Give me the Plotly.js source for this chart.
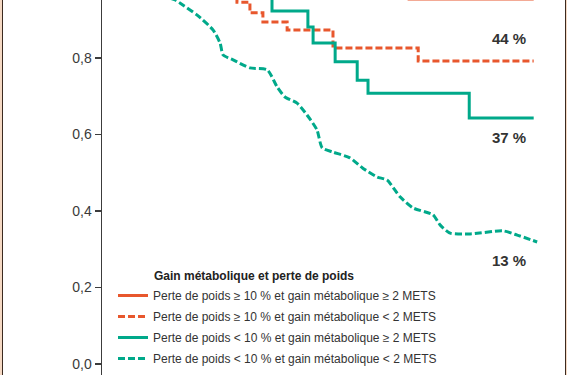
<!DOCTYPE html>
<html>
<head>
<meta charset="utf-8">
<script src="https://cdn.plot.ly/plotly-3.0.1.min.js"></script>
<style>
  html, body { margin: 0; padding: 0; background: #ffffff; overflow: hidden; }
  #chart { position: absolute; left: 0; top: 0; width: 567px; height: 375px; }
  .edgeL { position: absolute; left: 0; top: 0; width: 2px; height: 375px; background: #f5d9c4; border-right: 1px solid #3b2a20; pointer-events: none; }
  .edgeR { position: absolute; left: 565px; top: 0; width: 2px; height: 375px; background: #f5d9c4; border-left: 1px solid #3b2a20; box-sizing: border-box; pointer-events: none; }
</style>
</head>
<body>
<div id="chart"></div>
<div class="edgeL"></div>
<div class="edgeR"></div>
<script>
// Survival curves (time in years, survival probability)
const seriesNames = [
  "Perte de poids ≥ 10 % et gain métabolique ≥ 2 METS",
  "Perte de poids ≥ 10 % et gain métabolique < 2 METS",
  "Perte de poids < 10 % et gain métabolique ≥ 2 METS",
  "Perte de poids < 10 % et gain métabolique < 2 METS"
];

const xHighHigh = [0, 7.10, 9.98];
const yHighHigh = [1.0, 0.954, 0.954];

const xHighLow = [0, 3.12, 3.42, 3.72, 4.28, 5.34, 7.31, 9.98];
const yHighLow = [1.0, 0.946, 0.918, 0.894, 0.873, 0.826, 0.792, 0.792];

const xLowHigh = [0, 3.93, 4.76, 4.88, 5.39, 5.90, 6.15, 8.49, 9.98];
const yLowHigh = [1.0, 0.923, 0.881, 0.839, 0.790, 0.742, 0.708, 0.643, 0.643];

const xLowLow = [0, 1.69, 1.80, 2.20, 2.57, 2.73, 2.80, 3.03, 3.42, 3.82, 4.05, 4.23, 4.51, 4.74, 4.97,
                 5.09, 5.34, 5.73, 6.03, 6.36, 6.59, 6.89, 7.19, 7.65, 7.82, 8.05, 8.51, 9.27, 9.60, 10.06];
const yLowLow = [1.0, 0.952, 0.944, 0.912, 0.873, 0.839, 0.808, 0.795, 0.774, 0.769, 0.724, 0.698, 0.682, 0.651, 0.612,
                 0.565, 0.554, 0.539, 0.512, 0.489, 0.481, 0.437, 0.408, 0.390, 0.363, 0.342, 0.340, 0.348, 0.337, 0.319];

const endLabels = ["44 %", "37 %", "13 %"];
const endLabelX = [9.42, 9.42, 9.42];
const endLabelY = [0.850, 0.591, 0.271];

const yTicks = [0, 0.2, 0.4, 0.6, 0.8, 1.0];
const legendTitle = "Gain métabolique et perte de poids";

const ORANGE = "#e8572d";
const TEAL = "#00a98a";
const legFont = "Liberation Sans Narrow, Arial Narrow, Liberation Sans, sans-serif";

const traces = [
  {x: xHighHigh, y: yHighHigh, name: seriesNames[0], legendgroup: "a", mode: "lines",
   line: {color: ORANGE, width: 3, shape: "hv"}},
  {x: xHighLow, y: yHighLow, name: seriesNames[1], legendgroup: "b", mode: "lines",
   line: {color: ORANGE, width: 3, shape: "hv", dash: "7px,3px"}},
  {x: xLowHigh, y: yLowHigh, name: seriesNames[2], legendgroup: "c", mode: "lines",
   line: {color: TEAL, width: 3, shape: "hv"}},
  {x: xLowLow, y: yLowLow, name: seriesNames[3], legendgroup: "d", mode: "lines",
   line: {color: TEAL, width: 3, shape: "spline", smoothing: 0.6, dash: "7px,3px"}}
];

const annotations = endLabels.map((t, i) => ({
  x: endLabelX[i], y: endLabelY[i], xref: "x", yref: "y", text: "<b>" + t + "</b>",
  showarrow: false, xanchor: "center", yanchor: "middle",
  font: {family: "Liberation Sans, Arial, sans-serif", size: 15, color: "#333333"}
}));
annotations.push({
  x: (152 - 102) / 465, y: (375 - 276) / 375, xref: "paper", yref: "paper",
  text: "<b>" + legendTitle + "</b>", showarrow: false, xanchor: "left", yanchor: "middle",
  font: {family: legFont, size: 12, color: "#222222"}
});

const layout = {
  width: 567, height: 375,
  margin: {l: 102, r: 0, t: 0, b: 0, pad: 0},
  paper_bgcolor: "#ffffff", plot_bgcolor: "#ffffff",
  separators: ", ",
  showlegend: true,
  legend: {
    x: (113 - 102) / 465, y: (375 - 281) / 375, xanchor: "left", yanchor: "top",
    bgcolor: "rgba(0,0,0,0)", borderwidth: 0,
    traceorder: "grouped", tracegroupgap: 2, itemwidth: 30,
    font: {family: legFont, size: 12, color: "#333333"}
  },
  xaxis: {visible: false, range: [0, 10.75], fixedrange: true},
  yaxis: {
    range: [-0.0288, 0.9516], tickvals: yTicks, tickformat: ".1f",
    showgrid: false, zeroline: false, showline: true, linecolor: "#3c3c3c", linewidth: 1.5,
    ticks: "outside", ticklen: 6, tickwidth: 1.3, tickcolor: "#3c3c3c",
    tickfont: {family: "Liberation Sans, Arial, sans-serif", size: 14, color: "#3a3a3a"},
    automargin: false, fixedrange: true
  },
  annotations: annotations
};

Plotly.newPlot("chart", traces, layout, {displayModeBar: false, staticPlot: true});
</script>
</body>
</html>
